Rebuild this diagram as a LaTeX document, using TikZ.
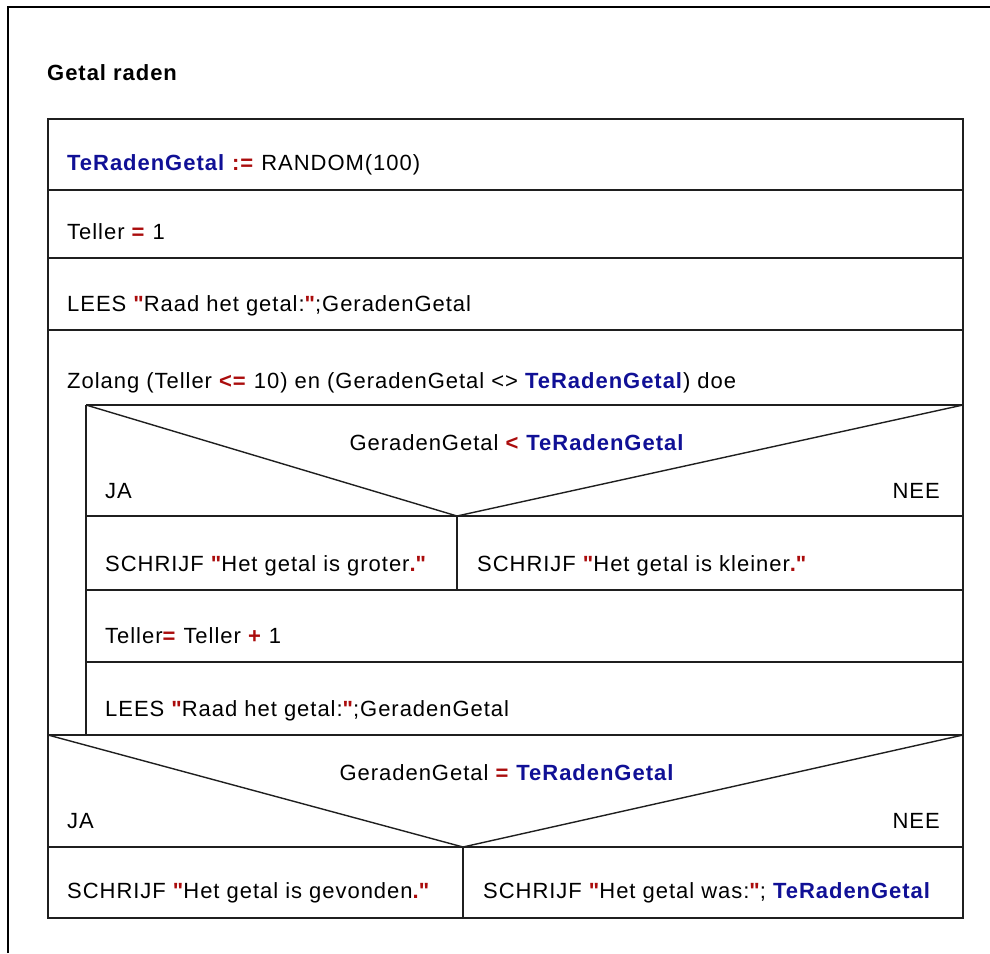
\documentclass[tikz,border=0pt]{standalone}
\usepackage{fontspec}
\setmainfont{Liberation Sans}[LetterSpace=4.4]
\definecolor{kblue}{RGB}{16,16,150}
\definecolor{kred}{RGB}{170,12,12}
\newcommand\kw[1]{\textcolor{kblue}{\textbf{#1}}}
\newcommand\op[1]{\textcolor{kred}{\textbf{#1}}}
\newcommand\qq{\textquotedbl}
\tikzset{
  ln/.style={draw=black!88, line width=1.4pt},
  frame/.style={draw=black, line width=2pt},
  txt/.style={anchor=base west, inner sep=0pt, font=\fontsize{22}{26}\selectfont},
  ctxt/.style={anchor=base, inner sep=0pt, font=\fontsize{22}{26}\selectfont},
  rtxt/.style={anchor=base east, inner sep=0pt, font=\fontsize{22}{26}\selectfont},
}
\begin{document}
\begin{tikzpicture}[x=1pt,y=-1pt]
\useasboundingbox (0,0) rectangle (990,953);
\draw[frame] (8,953) -- (8,7) -- (990,7);
\node[txt, font=\fontsize{22}{26}\selectfont\bfseries] (title) at (47,80) {Getal raden};
% main box
\draw[ln] (48,119) rectangle (963,918);
\draw[ln] (48,190) -- (963,190);
\draw[ln] (48,258) -- (963,258);
\draw[ln] (48,330) -- (963,330);
% while body
\draw[ln] (86,405) -- (963,405);
\draw[ln] (86,405) -- (86,735);
% if 1
\draw[ln] (86,405) -- (457,516) -- (963,405);
\draw[ln] (86,516) -- (963,516);
\draw[ln] (457,516) -- (457,590);
\draw[ln] (86,590) -- (963,590);
\draw[ln] (86,662) -- (963,662);
\draw[ln] (48,735) -- (963,735);
% if 2
\draw[ln] (48,735) -- (463,847) -- (963,735);
\draw[ln] (48,847) -- (963,847);
\draw[ln] (463,847) -- (463,918);
% texts
\node[txt] (r1) at (67,170) {\kw{TeRadenGetal} \op{:=} RANDOM(100)};
\node[txt] (r2) at (67,239) {Teller \op{=} 1};
\node[txt] (r3) at (67,311) {LEES \op{\qq}Raad het getal:\op{\qq};GeradenGetal};
\node[txt] (r4) at (67,388) {Zolang (Teller \op{<=} 10) en (GeradenGetal <> \kw{TeRadenGetal}) doe};
\node[ctxt] (c1) at (517,450) {GeradenGetal \op{<} \kw{TeRadenGetal}};
\node[txt] (ja1) at (105,498) {JA};
\node[rtxt] (nee1) at (940,498) {NEE};
\node[txt] (s1) at (105,571) {SCHRIJF \op{\qq}Het getal is groter\op{.\qq}};
\node[txt] (s2) at (477,571) {SCHRIJF \op{\qq}Het getal is kleiner\op{.\qq}};
\node[txt] (t1) at (105,643) {Teller\op{=} Teller \op{+} 1};
\node[txt] (l2) at (105,716) {LEES \op{\qq}Raad het getal:\op{\qq};GeradenGetal};
\node[ctxt] (c2) at (507,780) {GeradenGetal \op{=} \kw{TeRadenGetal}};
\node[txt] (ja2) at (67,828) {JA};
\node[rtxt] (nee2) at (940,828) {NEE};
\node[txt] (f1) at (67,898) {SCHRIJF \op{\qq}Het getal is gevonden\op{.\qq}};
\node[txt] (f2) at (483,898) {SCHRIJF \op{\qq}Het getal was:\op{\qq}; \kw{TeRadenGetal}};
\end{tikzpicture}
\end{document}
